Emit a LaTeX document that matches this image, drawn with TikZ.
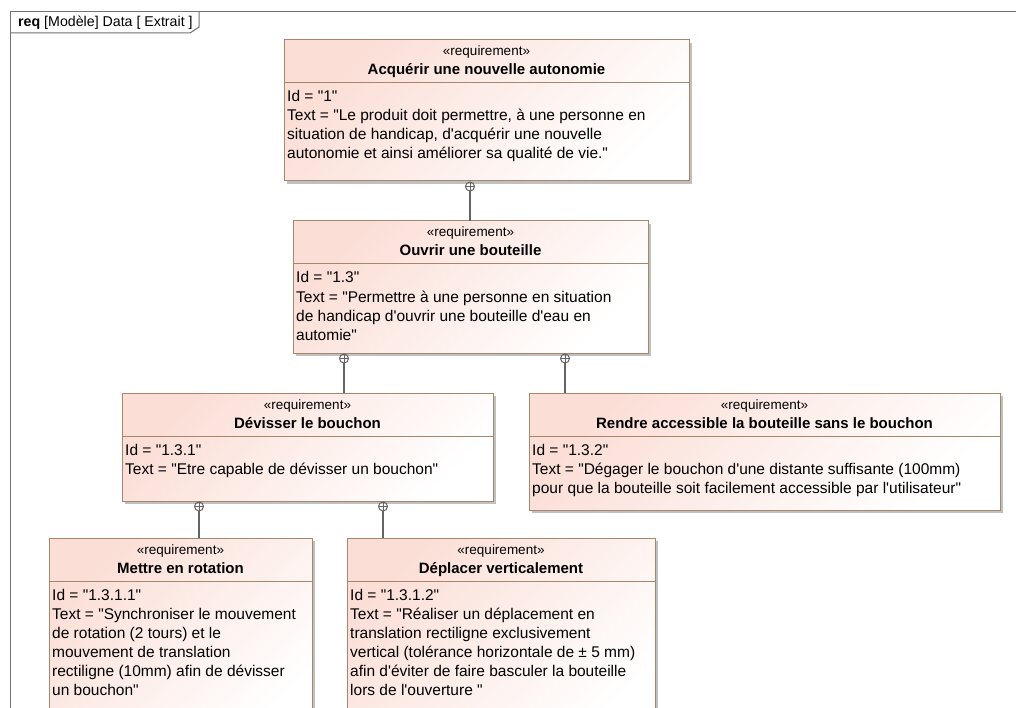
\documentclass[tikz,border=0pt]{standalone}
\usepackage{fontspec}
\setmainfont{Liberation Sans}[Ligatures=TeXOff]
\usetikzlibrary{calc}
\definecolor{reqpink}{RGB}{251,222,214}
\definecolor{reqbrd}{RGB}{165,135,110}
\definecolor{shadowc}{RGB}{192,192,192}
\definecolor{connc}{RGB}{100,100,100}
\definecolor{framec}{RGB}{115,115,115}
\newcommand{\ap}{\textquotesingle}
\tikzset{
  reqnode/.style={draw=reqbrd, line width=1pt, top color=reqpink, bottom color=white, shading angle=45, anchor=north west, inner sep=0pt, outer sep=0pt},
  shadowfill/.style={fill=shadowc},
  divider/.style={draw=reqbrd, line width=1pt},
  stereo/.style={anchor=base, inner sep=0pt, font=\fontsize{13.5}{16}\selectfont},
  reqtitle/.style={anchor=base, inner sep=0pt, font=\fontsize{15}{18}\selectfont\bfseries},
  bodyt/.style={anchor=base west, inner sep=0pt, font=\fontsize{15.5}{19}\selectfont},
  conn/.style={draw=connc, line width=1.3pt},
  contain/.style={draw=connc, line width=1pt},
  frameline/.style={draw=framec, line width=1pt},
  tabtext/.style={anchor=base west, inner sep=0pt, font=\fontsize{14.2}{16}\selectfont},
}
\newcommand{\reqbox}[6]{%
  \fill[shadowfill] ({#2+3},{#3+3}) rectangle ++(#4,#5);
  \node[reqnode, minimum width=#4pt, minimum height=#5pt] (#1) at (#2,#3) {};
  \node[stereo] (#1-st) at ($(#1.north)+(0,16)$) {«requirement»};
  \node[reqtitle] (#1-ti) at ($(#1.north)+(0,35)$) {#6};
  \draw[divider] ($(#1.north west)+(0,43)$) -- ($(#1.north east)+(0,43)$);
}
\newcommand{\reqlines}[2]{%
  \foreach \t [count=\i] in {#2} {
    \node[bodyt] (#1-l\i) at ($(#1.north west)+(3,{62+19*(\i-1)})$) {\t};
  }
}
\newcommand{\containment}[4]{% name, x, y, child
  \coordinate (#1) at (#2,#3);
  \draw[contain] (#1) circle (4.5);
  \draw[contain] ($(#1)+(-4.5,0)$) -- ($(#1)+(4.5,0)$);
  \draw[contain] ($(#1)+(0,-4.5)$) -- ($(#1)+(0,4.5)$);
  \draw[conn] ($(#1)+(0,4.5)$) -- (#4.north -| #1);
}
\begin{document}
\begin{tikzpicture}[x=1pt,y=-1pt]
\useasboundingbox (0,0) rectangle (1016,708);
\clip (0,0) rectangle (1016,708);
\fill[white] (0,0) rectangle (1016,708);
% frame
\draw[frameline] (10,730) -- (10,12) -- (1040,12);
\draw[frameline] (10,33) -- (190,33) -- (199,27) -- (199,12);
\node[tabtext] (tab) at (18,27) {\textbf{req} [Modèle] Data [ Extrait ]};
% boxes
\reqbox{acq}{284}{40}{405}{141}{Acquérir une nouvelle autonomie}
\reqlines{acq}{{Id = "1"},{Text = "Le produit doit permettre, à une personne en},{situation de handicap, d\ap acquérir une nouvelle},{autonomie et ainsi améliorer sa qualité de vie."}}
\reqbox{ouv}{293}{221}{355}{132}{Ouvrir une bouteille}
\reqlines{ouv}{{Id = "1.3"},{Text = "Permettre à une personne en situation},{de handicap d\ap ouvrir une bouteille d\ap eau en},{automie"}}
\reqbox{dev}{122}{393}{371}{108}{Dévisser le bouchon}
\reqlines{dev}{{Id = "1.3.1"},{Text = "Etre capable de dévisser un bouchon"}}
\reqbox{ren}{529}{393}{471}{117}{Rendre accessible la bouteille sans le bouchon}
\reqlines{ren}{{Id = "1.3.2"},{Text = "Dégager le bouchon d\ap une distante suffisante (100mm)},{pour que la bouteille soit facilement accessible par l\ap utilisateur"}}
\reqbox{met}{49}{538}{263}{200}{Mettre en rotation}
\reqlines{met}{{Id = "1.3.1.1"},{Text = "Synchroniser le mouvement},{de rotation (2 tours) et le},{mouvement de translation},{rectiligne (10mm) afin de dévisser},{un bouchon"}}
\reqbox{dep}{347}{538}{308}{200}{Déplacer verticalement}
\reqlines{dep}{{Id = "1.3.1.2"},{Text = "Réaliser un déplacement en},{translation rectiligne exclusivement},{vertical (tolérance horizontale de ± 5 mm)},{afin d\ap éviter de faire basculer la bouteille},{lors de l\ap ouverture "}}
% containment connectors
\containment{c1}{470}{186.5}{ouv}
\containment{c2}{344}{358.5}{dev}
\containment{c3}{565}{358.5}{ren}
\containment{c4}{199}{506.5}{met}
\containment{c5}{383}{506.5}{dep}
\end{tikzpicture}
\end{document}
